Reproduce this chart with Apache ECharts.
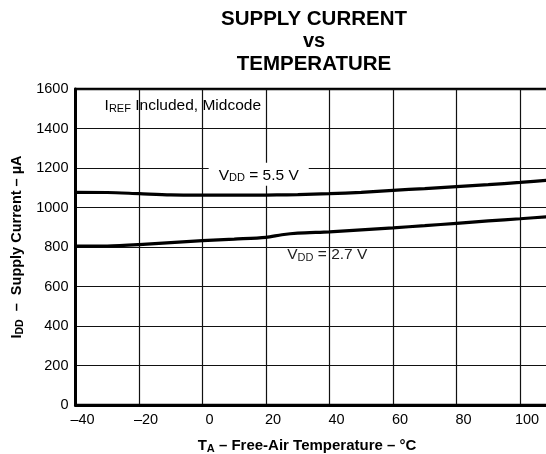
<!DOCTYPE html>
<html>
<head>
<meta charset="utf-8">
<script src="https://cdn.jsdelivr.net/npm/echarts@6/dist/echarts.min.js"></script>
<style>
html,body{margin:0;padding:0;background:#fff;overflow:hidden;}
#chart{width:546px;height:454px;}
</style>
</head>
<body>
<div id="chart"></div>
<script>
// Data
var temps = [-40, -30, -20, -10, 0, 10, 20, 25, 30, 40, 50, 60, 70, 80, 90, 100, 110];
var idd55 = [1077, 1076, 1070, 1064, 1063, 1063, 1063, 1064, 1065, 1070, 1077, 1087, 1096, 1106, 1116, 1127, 1140];
var idd27 = [804, 805, 812, 822, 832, 840, 849, 862, 870, 877, 887, 897, 908, 920, 932, 943, 955];
var xTicks = { min: -40, max: 120, interval: 20 };
var yTicks = { min: 0, max: 1600, interval: 200 };

var font = '"Liberation Sans", Arial, Helvetica, sans-serif';
function pairs(xs, ys) { return xs.map(function (x, i) { return [x, ys[i]]; }); }

var chart = echarts.init(document.getElementById('chart'), null, { renderer: 'canvas' });
chart.setOption({
  backgroundColor: '#fff',
  animation: false,
  textStyle: { fontFamily: font },
  title: [
    {
      text: 'SUPPLY CURRENT\n{v|vs}\nTEMPERATURE',
      left: 309, top: 3, textAlign: 'center',
      textStyle: {
        fontFamily: font, fontSize: 20.5, fontWeight: 'bold', color: '#000', lineHeight: 22.5,
        rich: { v: { fontFamily: font, fontSize: 20, fontWeight: 'bold', color: '#000', lineHeight: 22.5 } }
      }
    },
    {
      text: '{b|T}{s|A}{b| – Free-Air Temperature – °C}',
      left: 302, top: 432, textAlign: 'center',
      textStyle: {
        rich: {
          b: { fontFamily: font, fontSize: 15, fontWeight: 'bold', color: '#000' },
          s: { fontFamily: font, fontSize: 11, fontWeight: 'bold', color: '#000', verticalAlign: 'bottom', padding: [6, 0, 0, 0] }
        }
      }
    }
  ],
  grid: {
    left: 75.5, top: 89, bottom: 49, right: -37.5,
    containLabel: false, outerBoundsMode: 'none',
    show: true, borderColor: '#000', borderWidth: 2.5
  },
  xAxis: {
    type: 'value', min: xTicks.min, max: xTicks.max, interval: xTicks.interval,
    axisLine: { show: true, onZero: false, lineStyle: { color: '#000', width: 3 } },
    axisTick: { show: false },
    splitLine: { show: true, lineStyle: { color: '#111', width: 1.2 } },
    axisLabel: {
      fontFamily: font, fontSize: 14.5, color: '#000', margin: 7, padding: [0, 0, 0, 14],
      formatter: function (v) { return String(v).replace('-', '\u2013'); }
    }
  },
  yAxis: {
    type: 'value', min: yTicks.min, max: yTicks.max, interval: yTicks.interval,
    axisLine: { show: true, onZero: false, lineStyle: { color: '#000', width: 3 } },
    axisTick: { show: false },
    splitLine: { show: true, lineStyle: { color: '#111', width: 1.2 } },
    axisLabel: { fontFamily: font, fontSize: 14.5, color: '#000', margin: 7,
      formatter: function (v) { return String(v); } },
    name: '{b|I}{s|DD}{b|  –  Supply Current – µA}',
    nameLocation: 'middle', nameGap: 39, nameRotate: 90,
    nameTextStyle: {
      rich: {
        b: { fontFamily: font, fontSize: 14.5, fontWeight: 'bold', color: '#000' },
        s: { fontFamily: font, fontSize: 10.5, fontWeight: 'bold', color: '#000', verticalAlign: 'bottom', padding: [6, 0, 0, 0] }
      }
    }
  },
  series: [
    {
      name: 'VDD = 5.5 V', type: 'line', smooth: 0.3, symbol: 'none',
      data: pairs(temps, idd55),
      lineStyle: { color: '#000', width: 3.2 },
      z: 5,
      markPoint: {
        symbol: 'rect', symbolSize: 0, silent: true,
        data: [
          {
            coord: [17.7, 1168],
            label: {
              show: true, position: 'inside',
              formatter: '{n|V}{s|DD}{n| = 5.5 V}',
              backgroundColor: '#fff', padding: [4, 10, 2, 10],
              rich: {
                n: { fontFamily: font, fontSize: 15.5, color: '#000' },
                s: { fontFamily: font, fontSize: 11, color: '#000', verticalAlign: 'bottom', padding: [6, 0, 0, 0] }
              }
            }
          },
          {
            coord: [-6.2, 1513],
            label: {
              show: true, position: 'inside',
              formatter: '{n|I}{s|REF}{n| Included, Midcode}',
              rich: {
                n: { fontFamily: font, fontSize: 15.5, color: '#000' },
                s: { fontFamily: font, fontSize: 11, color: '#000', verticalAlign: 'bottom', padding: [6, 0, 0, 0] }
              }
            }
          }
        ]
      }
    },
    {
      name: 'VDD = 2.7 V', type: 'line', smooth: 0.3, symbol: 'none',
      data: pairs(temps, idd27),
      lineStyle: { color: '#000', width: 3.2 },
      z: 5,
      markPoint: {
        symbol: 'rect', symbolSize: 0, silent: true,
        data: [
          {
            coord: [39.3, 761],
            label: {
              show: true, position: 'inside',
              formatter: '{n|V}{s|DD}{n| = 2.7 V}',
              rich: {
                n: { fontFamily: font, fontSize: 15.5, color: '#222' },
                s: { fontFamily: font, fontSize: 11, color: '#222', verticalAlign: 'bottom', padding: [6, 0, 0, 0] }
              }
            }
          }
        ]
      }
    }
  ]
});
</script>
</body>
</html>
